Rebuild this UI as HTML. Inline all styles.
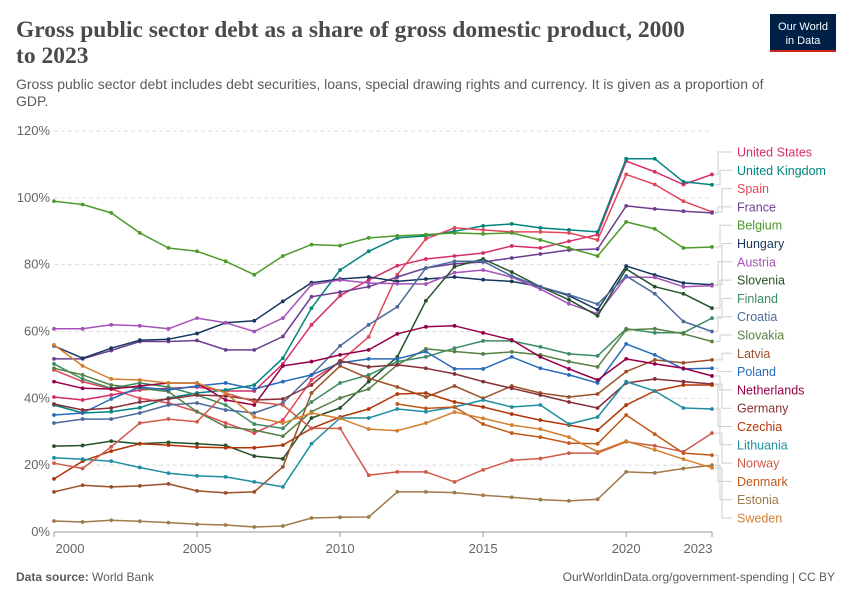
<!DOCTYPE html>
<html><head><meta charset="utf-8">
<style>
body{margin:0;background:#fff;width:850px;height:600px;overflow:hidden;font-family:"Liberation Sans",sans-serif;}
svg{position:absolute;left:0;top:0}
</style></head>
<body>
<svg id="chart" width="850" height="600" viewBox="0 0 850 600">
<text x="16" y="37" font-family="Liberation Serif, serif" font-size="23.5" font-weight="bold" fill="#4a4a4a">Gross public sector debt as a share of gross domestic product, 2000</text>
<text x="16" y="63" font-family="Liberation Serif, serif" font-size="23.5" font-weight="bold" fill="#4a4a4a">to 2023</text>
<text x="16" y="89" font-size="14" fill="#5b5b5b">Gross public sector debt includes debt securities, loans, special drawing rights and currency. It is given as a proportion of</text>
<text x="16" y="106" font-size="14" fill="#5b5b5b">GDP.</text>
<g>
<rect x="770" y="14" width="66" height="38" fill="#002147"/>
<rect x="770" y="50" width="66" height="2" fill="#ce261e"/>
<text x="803" y="30" font-size="11" fill="#fff" text-anchor="middle">Our World</text>
<text x="803" y="44" font-size="11" fill="#fff" text-anchor="middle">in Data</text>
</g>
<g id="grid"></g>
<g id="series"></g>
<g id="labels"></g>
<text x="16" y="581" font-size="12" fill="#5b5b5b"><tspan font-weight="bold">Data source:</tspan> World Bank</text>
<text x="835" y="581" font-size="12" fill="#5b5b5b" text-anchor="end">OurWorldinData.org/government-spending | CC BY</text>
</svg>
<script>
const years=[2000,2001,2002,2003,2004,2005,2006,2007,2008,2009,2010,2011,2012,2013,2014,2015,2016,2017,2018,2019,2020,2021,2022,2023];
const yTicks=[0,20,40,60,80,100,120];
const xTicks=[2000,2005,2010,2015,2020,2023];
const names=["United States","United Kingdom","Spain","France","Belgium","Hungary","Austria","Slovenia","Finland","Croatia","Slovakia","Latvia","Poland","Netherlands","Germany","Czechia","Lithuania","Norway","Denmark","Estonia","Sweden"];
const colors=["#d42e6c","#00847e","#e0475a","#6c3d91","#4c9a2a","#18375f","#a652ba","#25522b","#3c8c63","#4c6a9c","#578145","#9a5129","#286bbb","#970046","#883039","#b13507","#1f8ea0","#d05a4a","#c05917","#a07a4a","#d2802e"];
const usData=[40.4,39.5,41,42.5,43,43.4,42.2,42.2,50.3,62,70.7,75.4,79.7,81.7,82.6,83.5,85.6,85,87,89,111,107.8,104,107];
const ukData=[38,35.6,36,37.2,40.1,41.6,42.5,44,52,67,78.4,84,88,88.6,90,91.6,92.2,91,90.4,89.8,111.7,111.7,104.8,103.9];
const spainData=[48.5,45,42.8,40,38.6,36,32.6,29.6,33.5,45.5,51,58.4,77,87.7,91,90.4,89.8,89.8,89.5,87.4,107,104,99,95.8];
const franceData=[51.8,51.8,54.3,57,57,57.3,54.5,54.5,58.5,70.4,71.8,73.4,76.3,79,80.3,80.8,82,83.2,84.4,84.7,97.6,96.7,96,95.5];
const belgiumData=[99,98,95.5,89.5,85,84,81,77,82.6,86,85.7,88,88.6,89,89.5,89.2,89.5,87.4,85,82.6,92.8,90.7,85,85.3];
const hungaryData=[55.7,52,55,57.4,57.7,59.4,62.6,63.2,69,74.6,75.7,76.3,75,75.7,76.3,75.5,75,73.4,70.7,66.5,79.6,76.9,74.5,74];
const austriaData=[60.8,60.8,62,61.7,60.8,64,62.6,60,64,74,75.4,74.5,74.3,74.2,77.6,78.4,76.3,72.7,68.3,65.3,76.3,76.2,73.4,73.7];
const sloveniaData=[25.7,25.9,27.2,26.4,26.8,26.4,25.9,22.7,21.9,34.1,37.1,45,52.4,69.2,79.4,81.7,77.8,73.4,69.5,64.7,78.7,73.4,71.3,67];
const finlandData=[50.3,45.8,43,44.6,43.4,41,38,32.3,31,38.9,44.6,47,51,52.4,55,57.2,57.2,55.4,53.3,52.7,60.8,59.6,59.6,64];
const croatiaData=[32.6,33.8,33.8,35.6,38,38.6,36.5,35.6,38.6,47,55.7,62,67.4,79,81,81,76.6,73.4,71,68.2,76.6,71.3,63,60];
const slovakiaData=[49,47,44,43,42,36,31.5,30.5,28.7,36,40.1,42.8,50,54.8,54,53.3,53.9,53,51,49.4,60.5,60.8,59.3,57];
const latviaData=[12,14,13.5,13.8,14.4,12.3,11.7,12,19.5,41.6,49.7,46,43.4,40.4,43.7,40,43.7,41.6,40.4,41.3,48,51.5,50.6,51.5];
const polandData=[35,35.6,39.8,43.4,42.5,43.7,44.6,42.8,45,47,50.6,51.8,51.8,54,48.8,48.8,52.4,49,47,44.6,56.3,53,48.8,49];
const netherlandsData=[45,43,42.8,43.7,44.6,44.6,39.5,38,49.7,51,53,54.5,59.3,61.4,61.7,59.6,57.5,52.4,48.8,45.5,51.8,50.3,49,46.7];
const germanyData=[38.3,36.5,37.1,38.9,39.8,41,40.7,39.5,39.8,44,51.2,49.4,50,49,47.3,45,43,41,38.9,37.1,44.6,45.8,45,44.3];
const czechiaData=[15.9,21.2,24.2,26.4,26,25.4,25.2,25.2,26,31,34.4,36.8,41.3,41.6,38.9,37.4,35.3,33.5,32,30.5,38,42.2,44,44];
const lithuaniaData=[22.2,21.8,21.2,19.3,17.6,16.8,16.5,15,13.5,26.4,34.1,34.1,36.8,36,37.4,39.5,37.4,38,32.3,34.4,45,42.2,37.1,36.8];
const norwayData=[20.6,19,25.5,32.6,33.8,33,41.6,39,38,31,31,17,18,18,15,18.6,21.5,22,23.6,23.6,27,25.8,24,29.6];
const denmarkData=[null,null,null,null,null,null,null,null,null,null,null,null,38.3,37,37.4,32.3,29.6,28.4,26.6,26.4,35,29.3,23.6,23];
const estoniaData=[3.3,3,3.5,3.2,2.8,2.3,2.1,1.5,1.8,4.2,4.4,4.5,12,12,11.8,11,10.4,9.7,9.3,9.8,18,17.7,19,20];
const swedenData=[56,49.7,45.8,45.5,44.6,44.6,41.6,34.4,32.6,35.6,34,30.8,30.3,32.6,35.9,34,32,30.8,28.4,24,27.2,24.6,21.8,19.2];
const seriesData=[usData,ukData,spainData,franceData,belgiumData,hungaryData,austriaData,sloveniaData,finlandData,croatiaData,slovakiaData,latviaData,polandData,netherlandsData,germanyData,czechiaData,lithuaniaData,norwayData,denmarkData,estoniaData,swedenData];

const NS="http://www.w3.org/2000/svg";
const X0=54,X1=712,Y0=532,Y1=131;
function xs(yr){return X0+(yr-2000)/23*(X1-X0);}
function ys(v){return Y0-v/120*(Y0-Y1);}
function mk(tag,attrs,parent){const e=document.createElementNS(NS,tag);for(const k in attrs)e.setAttribute(k,attrs[k]);parent.appendChild(e);return e;}

const grid=document.getElementById('grid');
yTicks.forEach(t=>{
  const l=mk('line',{x1:X0,x2:X1,y1:ys(t),y2:ys(t),stroke:'#dddddd','stroke-dasharray':t===0?'':'4,3'},grid);
  
  
  const tx=mk('text',{x:50,y:ys(t)+4,'font-size':13,fill:'#666','text-anchor':'end'},grid);
  tx.textContent=t+'%';
  
  
});
mk('line',{x1:X0,x2:X1,y1:Y0,y2:Y0,stroke:'#999'},grid);
xTicks.forEach(t=>{
  const tk=mk('line',{x1:xs(t),x2:xs(t),y1:Y0,y2:Y0+5,stroke:'#999'},grid);
  
  
  const tx=mk('text',{x:t===2000?xs(t)+16:(t===2023?xs(t)-14:xs(t)),y:Y0+21,'font-size':13,fill:'#666','text-anchor':'middle'},grid);
  tx.textContent=t;
  
  
});

const sg=document.getElementById('series');
const lg=document.getElementById('labels');
const labelY0=152, labelStep=18.3;
seriesData.forEach((arr,i)=>{
  const g=mk('g',{},sg);
  
  
  let d='';let last=null;
  arr.forEach((v,j)=>{if(v==null)return;d+=(d?'L':'M')+xs(years[j]).toFixed(1)+','+ys(v).toFixed(1);last=[xs(years[j]),ys(v)];});
  const p=mk('path',{d:d,fill:'none',stroke:colors[i],'stroke-width':1.5,'stroke-linejoin':'round'},g);
  
  
  arr.forEach((v,j)=>{if(v==null)return;
    const c=mk('circle',{cx:xs(years[j]),cy:ys(v),r:1.9,fill:colors[i]},g);
    
    
  });
  const ly=labelY0+i*labelStep;
  const conn=mk('path',{d:`M${last[0]+3},${last[1]}H${718+(i%3)*2}V${ly}H732`,fill:'none',stroke:'#cfcfcf','stroke-width':1},lg);
  
  
  const t=mk('text',{x:737,y:ly+4.5,'font-size':12.5,fill:colors[i]},lg);
  t.textContent=names[i];
  
  
});
</script>
</body></html>
